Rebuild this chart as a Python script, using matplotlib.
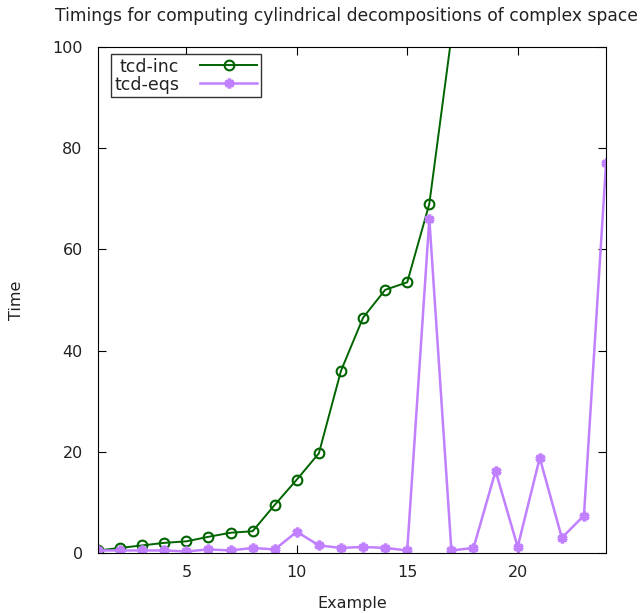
import matplotlib
matplotlib.use("Agg")
import matplotlib.pyplot as plt

# Example numbers
examples = list(range(1, 25))

# Timings (tcd-inc leaves the plotted range after example 16)
tcd_inc_x = list(range(1, 18))
tcd_inc = [0.5, 1.0, 1.5, 2.0, 2.3, 3.2, 4.0, 4.3, 9.5, 14.5, 19.7, 36.0,
           46.5, 52.0, 53.5, 69.0, 102.0]
tcd_eqs = [0.5, 0.5, 0.5, 0.5, 0.3, 0.7, 0.5, 1.0, 0.7, 4.2, 1.5, 1.0,
           1.2, 1.0, 0.5, 66.0, 0.5, 1.0, 16.2, 1.2, 18.8, 3.0, 7.4, 77.0]

fig = plt.figure(figsize=(6.43, 6.13), dpi=100)
ax = fig.add_axes([0.1524, 0.0979, 0.7901, 0.8254])

ax.plot(tcd_inc_x, tcd_inc, color='#006400', linewidth=1.4, marker='o',
        markersize=7, markerfacecolor='none', markeredgewidth=1.5,
        label='tcd-inc')
ax.plot(examples, tcd_eqs, color='#c080ff', linewidth=1.8, marker=(6, 2, 0),
        markersize=7, markeredgewidth=2.5, label='tcd-eqs')

ax.set_xlim(1, 24)
ax.set_ylim(0, 100)
ax.set_xticks([5, 10, 15, 20])
ax.set_yticks([0, 20, 40, 60, 80, 100])
ax.tick_params(direction='in', top=True, right=True, length=6,
               labelsize=11.5, pad=11, labelcolor='#222222')
ax.tick_params(axis='x', pad=9)

ax.set_title("Timings for computing cylindrical decompositions of complex space",
             fontsize=12.3, pad=19, color='#222222', x=0.49)
ax.set_xlabel("Example", fontsize=11.5, labelpad=11, color='#222222')
ax.set_ylabel("Time", fontsize=11.5, labelpad=20, color='#222222')

leg = ax.legend(loc='upper left', markerfirst=False, fancybox=False,
                framealpha=1, edgecolor='#333333', fontsize=12.5,
                bbox_to_anchor=(0.025, 0.986), borderaxespad=0,
                handlelength=3.3, labelspacing=0.0,
                handletextpad=1.2, borderpad=0.2)
leg.get_frame().set_linewidth(1.0)
for t in leg.get_texts():
    t.set_color('#222222')

fig.savefig("out.png", dpi=100)
